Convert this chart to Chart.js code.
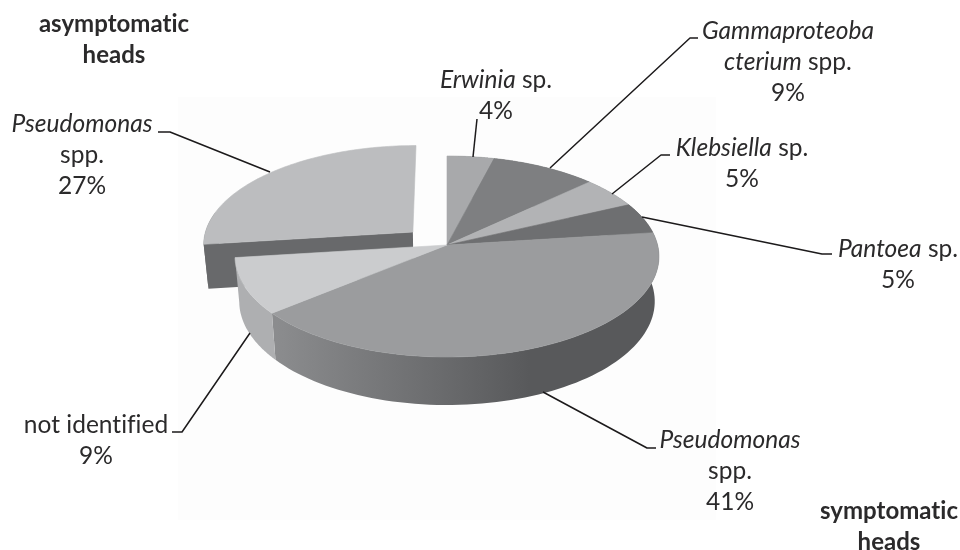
<!DOCTYPE html>
<html><head><meta charset="utf-8">
<style>html,body{margin:0;padding:0;background:#fff}canvas{display:block}</style>
<script src="https://cdn.jsdelivr.net/npm/chart.js@4"></script>
</head><body><canvas id="c" width="960" height="550"></canvas>
<script>
const categories = ["Erwinia sp.","Gammaproteobacterium spp.","Klebsiella sp.","Pantoea sp.","Pseudomonas spp. (symptomatic)","not identified","Pseudomonas spp. (asymptomatic)"];
const percentages = [4, 9, 5, 5, 41, 9, 27];
const explode = [0, 0, 0, 0, 0, 0, 50];
const topColors = ["#a8a9ab","#7e7f81","#b2b3b5","#6e6f71","#9b9c9e","#cbccce","#bcbdbf"];
const sideColors = ["#77787a","#5c5d5f","#7d7e80","#545557","grad","#aeafb1","#68696b"];

// Perspective of the tilted disc
const P = {cx:447, cy:245, a:210.6, b:99.2, k:0.1144, depth:44.5, shrink:0.02, explodedShiftX:-3};
function project(u, v, h, dx){
  const w = 1 - P.k*v, s = 1 - P.shrink*h;
  return [P.cx + (dx||0) + P.a*u/w*s, P.cy + P.b*v/w*s + P.depth*h/w];
}
function arcGeom(el){
  const R = el.outerRadius, mid = (el.startAngle+el.endAngle)/2, off = (el.options.offset||0)/R;
  return {ox:off*Math.cos(mid), oy:off*Math.sin(mid), s:el.startAngle, e:el.endAngle, dx:off?P.explodedShiftX:0};
}
function rimPoint(g, ang, h){ return project(g.ox+Math.cos(ang), g.oy+Math.sin(ang), h, g.dx); }
function fillPath(ctx, pts, color){
  ctx.beginPath(); pts.forEach((p,i)=> i?ctx.lineTo(p[0],p[1]):ctx.moveTo(p[0],p[1])); ctx.closePath();
  ctx.fillStyle=color; ctx.fill();
}
function sampled(g, h, rev, span){
  const n=80, out=[], f=span||1;
  for(let i=0;i<=n;i++){ const t=rev?1-i/n:i/n; out.push(rimPoint(g,g.s+(g.e-g.s)*t*f,h)); }
  return out;
}
function drawSlice(ctx, el, i){
  const g=arcGeom(el);
  let side=sideColors[i];
  if(side==="grad"){
    const gr=ctx.createLinearGradient(277,0,530,0);
    gr.addColorStop(0,"#8b8c8e"); gr.addColorStop(1,"#58595b"); side=gr;
  }
  const span=el.options.offset?0.2:1;
  fillPath(ctx, sampled(g,0,false,span).concat(sampled(g,1,true,span)), side);
  if(el.options.offset){
    fillPath(ctx,[project(g.ox,g.oy,0,g.dx),rimPoint(g,g.s,0),rimPoint(g,g.s,1),project(g.ox,g.oy,1,g.dx)],side);
  }
}
function drawTop(ctx, el){
  const g=arcGeom(el);
  const pts=[project(g.ox,g.oy,0,g.dx)].concat(sampled(g,0,false));
  fillPath(ctx,pts,el.options.backgroundColor);
  ctx.strokeStyle=el.options.backgroundColor; ctx.lineWidth=0.6; ctx.stroke();
}

// Text: each line is a list of [text, italic] runs
const labelLines = [
  [[["Erwinia",1],[" sp.",0]], [["4%",0]]],
  [[["Gammaproteoba",1]], [["cterium",1],[" spp.",0]], [["9%",0]]],
  [[["Klebsiella",1],[" sp.",0]], [["5%",0]]],
  [[["Pantoea",1],[" sp.",0]], [["5%",0]]],
  [[["Pseudomonas",1]], [["spp.",0]], [["41%",0]]],
  [[["not identified",0]], [["9%",0]]],
  [[["Pseudomonas",1]], [["spp.",0]], [["27%",0]]]
];
const labelAnchors = [[496,88],[788,39],[742,156],[898,257],[730,448],[96,433],[82,132]];
const leaders = [
  [[473,157],[477,119]],
  [[550,168],[690,38],[698,38]],
  [[612,194],[661,155],[670,155]],
  [[642,217],[822,254],[832,254]],
  [[543,392],[647,448],[656,448]],
  [[250,333],[182,432],[172,432]],
  [[270,172],[170,132],[158,132]]
];
const noteLines = [["asymptomatic","heads"],["symptomatic","heads"]];
const noteAnchors = [[114,32],[889,519]];
const FONT='"Lato"', SIZE=24.5, BOLD=24, LH=31;

function drawRuns(ctx, runs, cx, y){
  const fontOf=r=>(r[1]?"italic ":"")+SIZE+"px "+FONT;
  let w=0; runs.forEach(r=>{ctx.font=fontOf(r); w+=ctx.measureText(r[0]).width;});
  let x=cx-w/2;
  runs.forEach(r=>{ctx.font=fontOf(r); ctx.fillText(r[0],x,y); x+=ctx.measureText(r[0]).width;});
}

const pie3d = {
  id:"pie3d",
  beforeDraw(chart){
    const c=chart.ctx; c.save(); c.fillStyle="#fdfdfd"; c.fillRect(178,97,538,423); c.restore();
  },
  beforeDatasetDraw(chart,args){
    const ctx=chart.ctx, els=args.meta.data;
    ctx.save();
    const idx=els.map((e,i)=>i);
    const back=idx.filter(i=>els[i].options.offset), main=idx.filter(i=>!els[i].options.offset);
    back.forEach(i=>{drawSlice(ctx,els[i],i); drawTop(ctx,els[i]);});
    main.forEach(i=>drawSlice(ctx,els[i],i));
    main.forEach(i=>drawTop(ctx,els[i]));
    ctx.restore();
    return false;
  },
  afterDatasetsDraw(chart){
    const ctx=chart.ctx;
    ctx.save();
    ctx.strokeStyle="#1c1a1b"; ctx.lineWidth=1.5; ctx.lineJoin="round";
    leaders.forEach(l=>{ctx.beginPath(); l.forEach((p,i)=>i?ctx.lineTo(p[0],p[1]):ctx.moveTo(p[0],p[1])); ctx.stroke();});
    ctx.fillStyle="#2b2a2b"; ctx.textBaseline="alphabetic"; ctx.textAlign="left";
    ctx.letterSpacing="0.01px";
    labelLines.forEach((lines,i)=>{
      lines.forEach((runs,j)=>drawRuns(ctx,runs,labelAnchors[i][0],labelAnchors[i][1]+j*LH));
    });
    ctx.textAlign="center"; ctx.font="bold "+BOLD+"px "+FONT;
    noteLines.forEach((lines,i)=>lines.forEach((t,j)=>ctx.fillText(t,noteAnchors[i][0],noteAnchors[i][1]+j*31)));
    ctx.restore();
  }
};

new Chart(document.getElementById("c"),{
  type:"pie",
  data:{labels:categories,datasets:[{data:percentages,backgroundColor:topColors,offset:explode,borderWidth:0}]},
  options:{responsive:false,animation:false,events:[],
    layout:{padding:0},
    plugins:{legend:{display:false},tooltip:{enabled:false},title:{display:false}}},
  plugins:[pie3d]
});
</script></body></html>
